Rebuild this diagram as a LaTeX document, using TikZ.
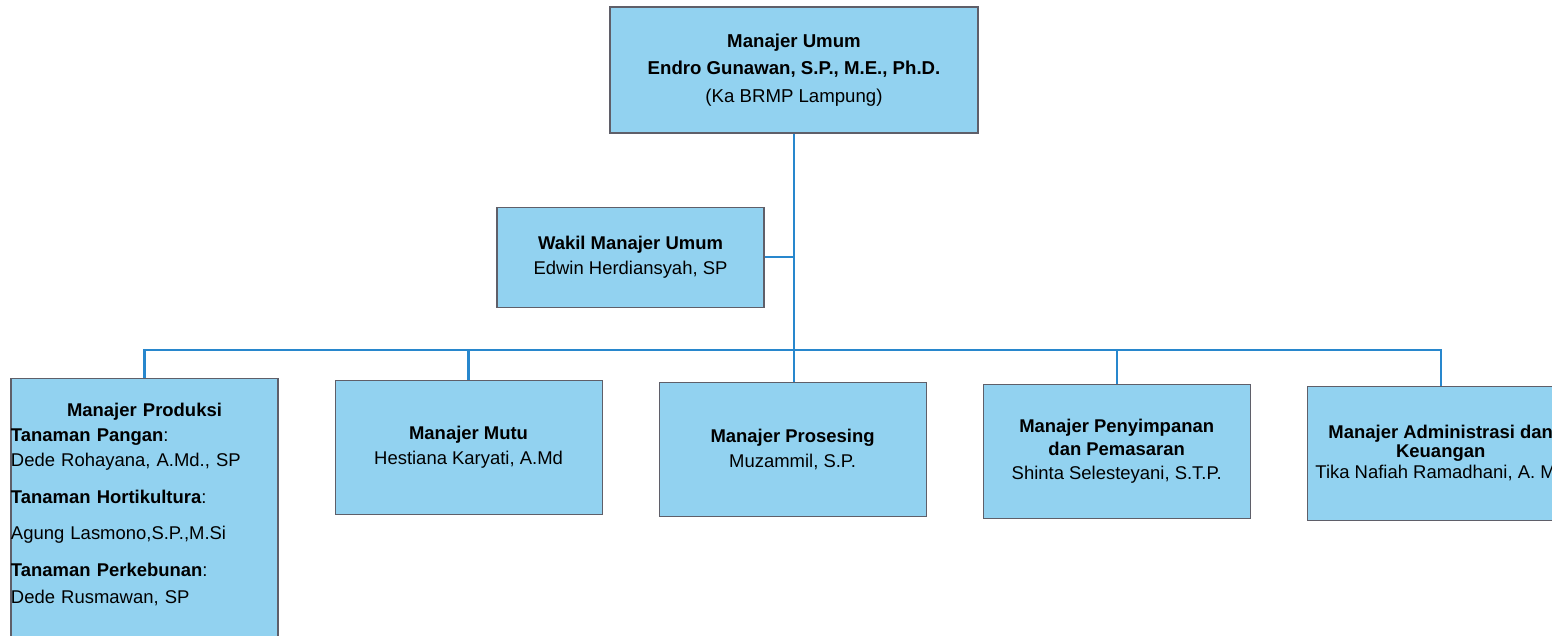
\documentclass[tikz,border=0pt]{standalone}
\usepackage{fontspec}
\setmainfont{Liberation Sans}
\usetikzlibrary{positioning}
\definecolor{boxfill}{RGB}{146,210,240}
\definecolor{boxline}{RGB}{95,95,105}
\definecolor{linkblue}{RGB}{40,135,205}

\begin{document}
\begin{tikzpicture}[
    box/.style={draw=boxline, line width=0.6pt, fill=boxfill, minimum width=5.34cm, minimum height=2.68cm, align=center, inner sep=0pt, font=\fontsize{10.5}{14.2}\selectfont},
    link/.style={draw=linkblue, line width=1.3pt},
    node distance=1cm and 1.12cm,
    ]
    \useasboundingbox (0,0) rectangle (31.04,-12.7);
    \clip (0,0) rectangle (31.04,-12.7);

    \node [box, minimum width=7.36cm, minimum height=2.52cm, font=\fontsize{10.6}{15.6}\selectfont] (umum) at (15.88,-1.40) {\textbf{Manajer Umum}\\ \textbf{Endro Gunawan, S.P., M.E., Ph.D.}\\ (Ka BRMP Lampung)};
    \node [box, minimum height=2.0cm, below=of umum, xshift=-3.27cm, yshift=-0.46cm] (wakil) {\textbf{Wakil Manajer Umum}\\ Edwin Herdiansyah, SP};

    \node [box, below=of wakil, xshift=-9.72cm, yshift=-0.40cm, text width=5.34cm, align=left, inner ysep=0.5cm] (prod) {\centerline{\textbf{Manajer Produksi}}
        \textbf{Tanaman Pangan}:\\ Dede Rohayana, A.Md., SP\\[7pt]
        \textbf{Tanaman Hortikultura}:\\[6pt] Agung Lasmono,S.P.,M.Si\\[7pt]
        \textbf{Tanaman Perkebunan}:\\[1pt] Dede Rusmawan, SP\\[0.6cm]\mbox{}};
    \node [box, right=of prod.north east, anchor=north west, yshift=-0.04cm] (mutu) {\textbf{Manajer Mutu}\\ Hestiana Karyati, A.Md};
    \node [box, right=of mutu, yshift=-0.04cm] (pros) {\textbf{Manajer Prosesing}\\ Muzammil, S.P.};
    \node [box, right=of pros, yshift=-0.04cm, font=\fontsize{10.5}{13.5}\selectfont] (simpan) {\textbf{Manajer Penyimpanan}\\ \textbf{dan Pemasaran}\\ Shinta Selesteyani, S.T.P.};
    \node [box, right=of simpan, yshift=-0.04cm, font=\fontsize{10.5}{10.8}\selectfont] (admin) {\textbf{Manajer Administrasi dan}\\ \textbf{Keuangan}\\[1pt] Tika Nafiah Ramadhani, A. Md};

    \coordinate [below=4.33cm of umum.south] (bar);
    \draw [link] (umum.south) -- (umum.south |- pros.north);
    \draw [link] (wakil.east) -- (wakil.east -| umum.south);
    \draw [link] (bar) -| (prod.north);
    \draw [link] (bar) -| (admin.north);
    \draw [link] (mutu.north |- bar) -- (mutu.north);
    \draw [link] (simpan.north |- bar) -- (simpan.north);
\end{tikzpicture}
\end{document}
